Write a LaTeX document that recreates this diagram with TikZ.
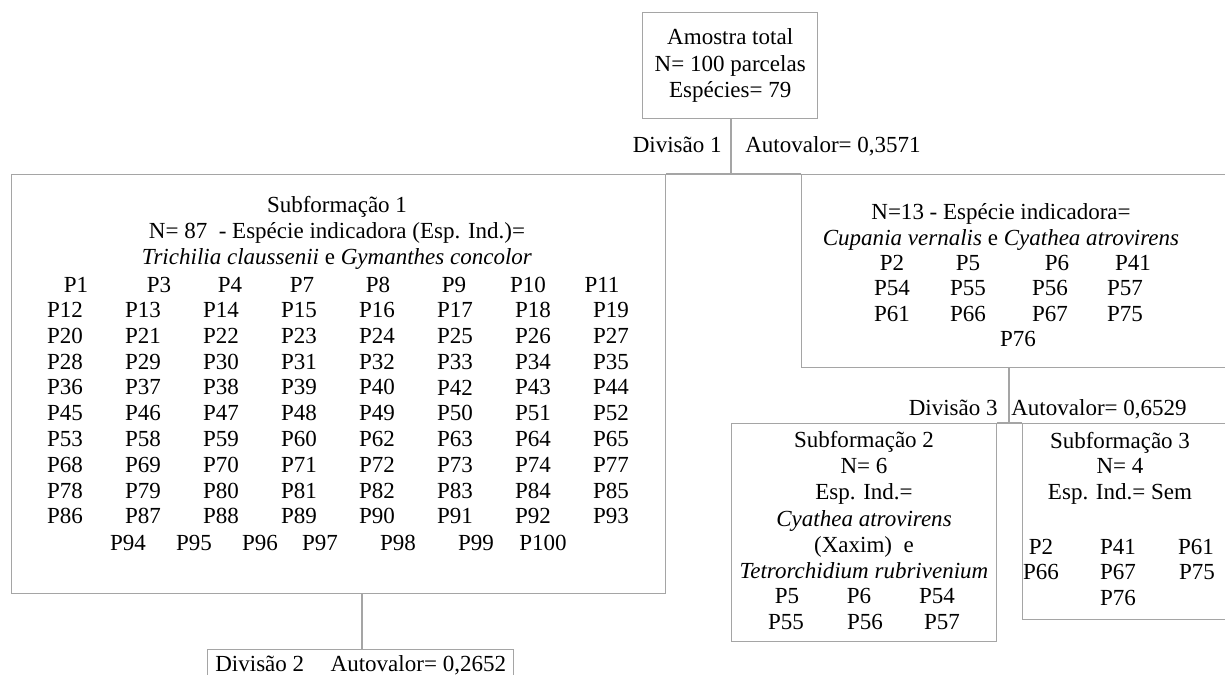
\documentclass[tikz,border=0pt]{standalone}
\usepackage{fontspec}
\setmainfont{Liberation Serif}
\definecolor{linegray}{RGB}{165,165,165}

\begin{document}
\begin{tikzpicture}[x=0.02cm, y=-0.02cm,
        box/.style={draw=linegray, line width=0.8pt, anchor=north west,
                    inner sep=0pt, align=center,
                    font=\fontsize{13.1pt}{15pt}\selectfont},
        txt/.style={inner sep=0pt, align=center,
                    font=\fontsize{13.1pt}{14.7pt}\selectfont},
        cell/.style={inner sep=0pt, font=\fontsize{13.1pt}{14.7pt}\selectfont},
        link/.style={draw=linegray, line width=0.8pt}]
      \useasboundingbox (0,0) rectangle (1225,674);
      % boxes
      \node[box, minimum width=3.5cm,   minimum height=2.12cm] (total) at (642,12)
           {Amostra total\\N= 100 parcelas\\Espécies= 79};
      \node[box, minimum width=13.08cm, minimum height=8.38cm] (sub1) at (11,174) {};
      \node[box, minimum width=8.8cm,   minimum height=3.86cm] (n13)  at (801,174) {};
      \node[box, minimum width=5.3cm,   minimum height=4.36cm] (sub2) at (731,423) {};
      \node[box, minimum width=4.5cm,   minimum height=3.92cm] (sub3) at (1022,423) {};
      \node[box, minimum width=6.12cm,  minimum height=1cm]    (div2) at (207,649) {};
      % divisions
      \node[txt, anchor=base east] (div1lbl) at (722,152) {Divisão 1};
      \node[txt, anchor=base west] (av1lbl)  at (745,152) {Autovalor= 0,3571};
      \node[txt, anchor=base east] (div3lbl) at (998,415) {Divisão 3};
      \node[txt, anchor=base west] (av3lbl)  at (1011,415) {Autovalor= 0,6529};
      \node[txt, anchor=base west] (div2lbl) at (215,671) {Divisão 2\hspace{1.15em}Autovalor= 0,2652};
      % subformacao 1
      \node[txt] (s1head) at (337,233)
           {Subformação 1\\N= 87\ \ - Espécie indicadora (Esp. Ind.)=\\
            \textit{Trichilia claussenii} e \textit{Gymanthes concolor}};
      \foreach \lbl/\px in {P1/76,P3/159,P4/230,P7/302,P8/378,P9/454,P10/528,P11/602}
        \node[cell] (a-\lbl) at (\px,285) {\lbl};
      \foreach \row [count=\r] in {{P12,P13,P14,P15,P16,P17,P18,P19},
                                   {P20,P21,P22,P23,P24,P25,P26,P27},
                                   {P28,P29,P30,P31,P32,P33,P34,P35},
                                   {P36,P37,P38,P39,P40,P42,P43,P44},
                                   {P45,P46,P47,P48,P49,P50,P51,P52},
                                   {P53,P58,P59,P60,P62,P63,P64,P65},
                                   {P68,P69,P70,P71,P72,P73,P74,P77},
                                   {P78,P79,P80,P81,P82,P83,P84,P85},
                                   {P86,P87,P88,P89,P90,P91,P92,P93}}
        \foreach \lbl [count=\c] in \row
          \node[cell] (a-\lbl) at ({65+78*(\c-1)},{310+25.8*(\r-1)}) {\lbl};
      \foreach \lbl/\px in {P94/128,P95/194,P96/260,P97/320,P98/398,P99/476,P100/543}
        \node[cell] (a-\lbl) at (\px,543) {\lbl};
      % N=13
      \node[txt] (n13head) at (1001,227)
           {N=13 - Espécie indicadora=\\
            \textit{Cupania vernalis} e \textit{Cyathea atrovirens}};
      \foreach \lbl/\px/\py in {P2/892/263,P5/968/263,P6/1057/263,P41/1133/263,
                                P54/892/288,P55/968/288,P56/1050/288,P57/1125/288,
                                P61/892/314,P66/968/314,P67/1050/314,P75/1125/314,
                                P76/1018/339}
        \node[cell] (b-\lbl) at (\px,\py) {\lbl};
      % subformacao 2
      \node[txt, font=\fontsize{13.1pt}{14.85pt}\selectfont] (s2head) at (864,505)
           {Subformação 2\\N= 6\\Esp. Ind.=\\\textit{Cyathea atrovirens}\\
            (Xaxim)\ \ e\\\textit{Tetrorchidium rubrivenium}};
      \foreach \lbl/\px/\py in {P5/787/596,P6/859/596,P54/937/596,
                                P55/786/622,P56/865/622,P57/942/622}
        \node[cell] (c-\lbl) at (\px,\py) {\lbl};
      % subformacao 3
      \node[txt, font=\fontsize{13.1pt}{14.6pt}\selectfont] (s3head) at (1120,468)
           {Subformação 3\\N= 4\\Esp. Ind.= Sem};
      \foreach \lbl/\px/\py in {P2/1041/547,P41/1118/547,P61/1196/547,
                                P66/1041/572,P67/1118/572,P75/1197/572,
                                P76/1118/598}
        \node[cell] (d-\lbl) at (\px,\py) {\lbl};
      % connectors
      \coordinate (d1) at (731,118);
      \coordinate (d3) at (1009,367);
      \coordinate (d2) at (362,593);
      \draw[link] (d1) -- (d1 |- sub1.north);
      \draw[link] (sub1.north east) -- (n13.north west);
      \draw[link] (d3) -- (d3 |- sub2.north);
      \draw[link] (sub2.north east) -- (sub3.north west);
      \draw[link] (d2) -- (d2 |- div2.north);
    \end{tikzpicture}
\end{document}
